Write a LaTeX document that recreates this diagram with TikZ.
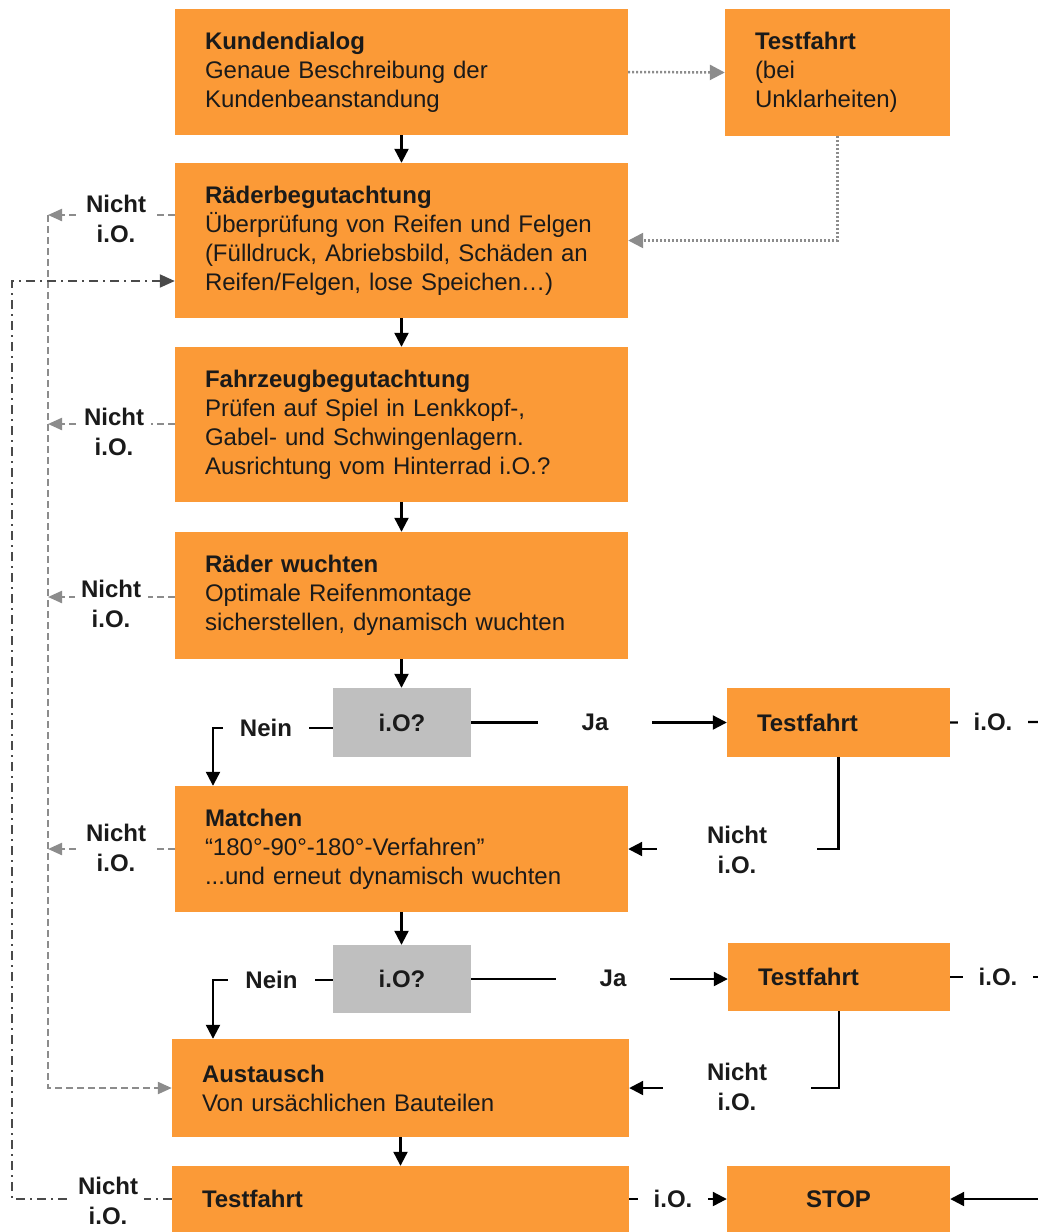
\documentclass[tikz,border=0pt]{standalone}
\usepackage{fontspec}
\setmainfont{Liberation Sans}
\usetikzlibrary{arrows.meta}
\definecolor{oran}{HTML}{FB9A37}
\definecolor{grayb}{HTML}{BFBFBF}
\definecolor{gline}{HTML}{8C8C8C}
\definecolor{ddline}{HTML}{4A4A4A}
\definecolor{txt}{HTML}{1A1A1A}
\newcommand\boxfont{\fontsize{24}{29}\selectfont}
\newcommand\labfont{\fontsize{24}{30}\selectfont}
\begin{document}
\begin{tikzpicture}[x=1pt,y=-1pt,
  box/.style={fill=oran, inner xsep=30pt, inner ysep=0pt, align=left, font=\boxfont, text=txt},
  gbox/.style={fill=grayb, minimum width=138pt, inner sep=0pt, font=\boxfont\bfseries, text=txt},
  lab/.style={fill=white, inner ysep=1pt, align=center, font=\labfont\bfseries, text=txt},
  arr/.style={draw=black, line width=2.2pt, -{Triangle[length=14pt,width=14pt]}},
  ln/.style={draw=black, line width=2.2pt},
  gd/.style={draw=gline, line width=2.2pt, dash pattern=on 7pt off 4pt, -{Triangle[length=14pt,width=12pt]}},
  dotl/.style={draw=gline, line width=2.5pt, dash pattern=on 2pt off 2pt, -{Triangle[length=15pt,width=15pt]}},
  dd/.style={draw=ddline, line width=2pt, dash pattern=on 9pt off 5pt on 2pt off 5pt, -{Triangle[length=15pt,width=13pt]}}
]
\fill[white] (0,0) rectangle (1038,1232);
\useasboundingbox (0,0) rectangle (1038,1232);

% boxes
\node[box, text width=393pt, minimum height=126pt] (kd) at (401.5,72) {\textbf{Kundendialog}\\Genaue Beschreibung der\\Kundenbeanstandung};
\node[box, text width=165pt, minimum height=127pt] (tfu) at (837.5,72.5) {\textbf{Testfahrt}\\(bei\\Unklarheiten)};
\node[box, text width=393pt, minimum height=155pt] (rb) at (401.5,240.5) {\textbf{Räderbegutachtung}\\Überprüfung von Reifen und Felgen\\(Fülldruck, Abriebsbild, Schäden an\\Reifen/Felgen, lose Speichen…)};
\node[box, text width=393pt, minimum height=155pt] (fb) at (401.5,424.5) {\textbf{Fahrzeugbegutachtung}\\Prüfen auf Spiel in Lenkkopf-,\\Gabel- und Schwingenlagern.\\Ausrichtung vom Hinterrad i.O.?};
\node[box, text width=393pt, minimum height=127pt] (rw) at (401.5,595.5) {\textbf{Räder wuchten}\\Optimale Reifenmontage\\sicherstellen, dynamisch wuchten};
\node[gbox, minimum height=69pt] (io1) at (402,722.5) {i.O?};
\node[box, text width=163pt, minimum height=69pt] (tf1) at (838.5,722.5) {\textbf{Testfahrt}};
\node[box, text width=393pt, minimum height=126pt] (mat) at (401.5,849) {\textbf{Matchen}\\“180°-90°-180°-Verfahren”\\...und erneut dynamisch wuchten};
\node[gbox, minimum height=68pt] (io2) at (402,979) {i.O?};
\node[box, text width=162pt, minimum height=68pt] (tf2) at (839,977) {\textbf{Testfahrt}};
\node[box, text width=397pt, minimum height=98pt] (aus) at (400.5,1088) {\textbf{Austausch}\\Von ursächlichen Bauteilen};
\node[box, text width=397pt, minimum height=66pt] (tfb) at (400.5,1199) {\textbf{Testfahrt}};
\node[box, align=center, text width=163pt, minimum height=66pt] (stop) at (838.5,1199) {\textbf{STOP}};

% coordinates
\coordinate (g1) at (48,215);
\coordinate (g2) at (48,424);
\coordinate (g3) at (48,597);
\coordinate (g4) at (48,849);
\coordinate (ddtop) at (12,281);
\coordinate (n1) at (213,728);
\coordinate (n2) at (213,980);
\coordinate (e1) at (1038,722);
\coordinate (e2) at (1038,977);
\coordinate (e3) at (1038,1199);

% main vertical flow
\draw[arr] (kd.south) -- (rb.north);
\draw[arr] (rb.south) -- (fb.north);
\draw[arr] (fb.south) -- (rw.north);
\draw[arr] (rw.south) -- (rw.south |- io1.north);
\draw[arr] (mat.south) -- (mat.south |- io2.north);
\draw[arr] (aus.south) -- (tfb.north);

% dotted Testfahrt bei Unklarheiten
\draw[dotl] (kd.east) -- (tfu.west);
\draw[dotl] (tfu.south) |- (rb.east);

% gray dashed Nicht i.O. returns
\draw[gd] (rb.west |- g1) -- (g1);
\draw[gd] (fb.west |- g2) -- (g2);
\draw[gd] (rw.west |- g3) -- (g3);
\draw[gd] (mat.west |- g4) -- (g4);
\draw[gd] (g1) |- (aus.west);

% dash-dot from final Testfahrt
\draw[dd] (tfb.west) -| (ddtop) -- (ddtop -| rb.west);

% decision 1
\draw[arr] (io1.west |- n1) -- (n1) -- (n1 |- mat.north);
\draw[arr] (io1.east) -- (io1.east -| tf1.west);
\draw[ln] (tf1.east) -- (e1);
\draw[arr] (tf1.south) |- (mat.east);

% decision 2
\draw[arr] (io2.west |- n2) -- (n2) -- (n2 |- aus.north);
\draw[arr] (io2.east) -- (io2.east -| tf2.west);
\draw[ln] (tf2.east) -- (e2);
\draw[arr] (tf2.south) |- (aus.east);

% final
\draw[arr] (tfb.east) -- (stop.west);
\draw[arr] (e3) -- (stop.east);

% labels
\node[lab, inner xsep=6.5pt] (l1) at (116,219) {Nicht\\i.O.};
\node[lab, inner xsep=6.5pt] (l2) at (114,432) {Nicht\\i.O.};
\node[lab, inner xsep=6.5pt] (l3) at (111,604) {Nicht\\i.O.};
\node[lab, inner xsep=6.5pt] (l4) at (116,848) {Nicht\\i.O.};
\node[lab, inner xsep=6pt] (l5) at (108,1201) {Nicht\\i.O.};
\node[lab, inner xsep=17pt] (nein1) at (266,728) {Nein};
\node[lab, inner xsep=17pt] (nein2) at (271.5,980) {Nein};
\node[lab, inner xsep=44pt] (ja1) at (595,722) {Ja};
\node[lab, inner xsep=44pt] (ja2) at (613,978) {Ja};
\node[lab, inner xsep=15.5pt] (io1r) at (993,722) {i.O.};
\node[lab, inner xsep=15.5pt] (io2r) at (998,977) {i.O.};
\node[lab, inner xsep=15.5pt] (iob) at (673,1199) {i.O.};
\node[lab, inner xsep=50pt] (nr1) at (737,850) {Nicht\\i.O.};
\node[lab, inner xsep=44pt] (nr2) at (737,1087) {Nicht\\i.O.};
\end{tikzpicture}
\end{document}
